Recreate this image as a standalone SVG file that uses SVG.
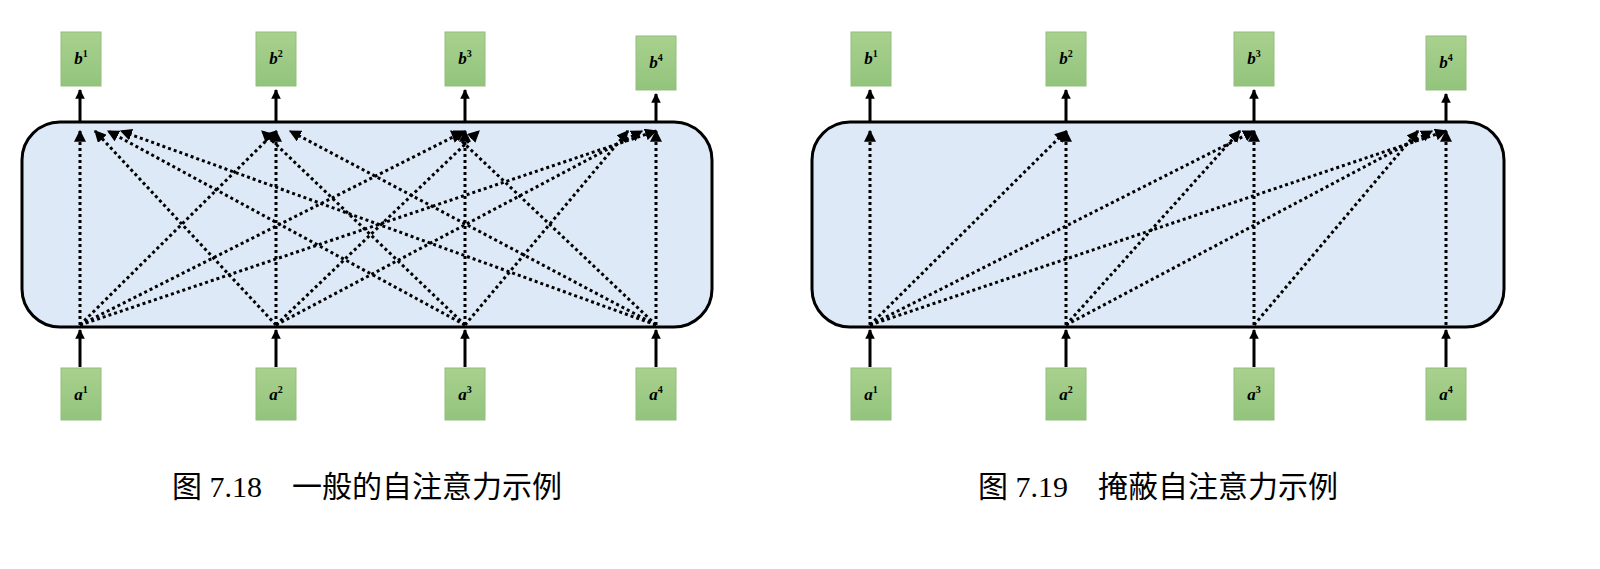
<svg xmlns="http://www.w3.org/2000/svg" width="1600" height="569" viewBox="0 0 1600 569">
<defs>
<linearGradient id="g" x1="0" y1="0" x2="0" y2="1"><stop offset="0" stop-color="#a9d18e"/><stop offset="1" stop-color="#92c47c"/></linearGradient>
<marker id="ah" viewBox="0 0 10 10" refX="9" refY="5" markerWidth="4" markerHeight="4" orient="auto"><path d="M0,0L10,5L0,10z" fill="#000"/></marker>
<marker id="as" viewBox="0 0 10 10" refX="9" refY="5" markerWidth="3.2" markerHeight="3.2" orient="auto"><path d="M0,0L10,5L0,10z" fill="#000"/></marker>
</defs>
<style>
.panel{fill:#dde9f6;stroke:#000;stroke-width:3}
.nd{fill:url(#g);stroke:#94bd7e;stroke-width:1}
.lb{font-family:"Liberation Serif",serif;font-weight:bold;font-style:italic;font-size:17px;text-anchor:middle}
.sup{font-size:10px;font-style:normal}
.io{stroke:#000;stroke-width:3;marker-end:url(#as);fill:none}
.dt{stroke:#000;stroke-width:3;stroke-dasharray:3 3;fill:none;marker-end:url(#ah)}
.cap{font-family:"Liberation Serif","Noto Sans CJK SC",serif;font-size:30px;text-anchor:middle}
</style>
<rect class="panel" x="22" y="122" width="690" height="205" rx="38"/>
<rect class="panel" x="812" y="122" width="692" height="205" rx="38"/>
<g id="b1L"><rect class="nd" x="61" y="32" width="40" height="54"/><text class="lb" x="81" y="64">b<tspan class="sup" dy="-7">1</tspan></text></g>
<g id="b2L"><rect class="nd" x="256" y="32" width="40" height="54"/><text class="lb" x="276" y="64">b<tspan class="sup" dy="-7">2</tspan></text></g>
<g id="b3L"><rect class="nd" x="445" y="32" width="40" height="54"/><text class="lb" x="465" y="64">b<tspan class="sup" dy="-7">3</tspan></text></g>
<g id="b4L"><rect class="nd" x="636" y="36" width="40" height="54"/><text class="lb" x="656" y="68">b<tspan class="sup" dy="-7">4</tspan></text></g>
<g id="a1L"><rect class="nd" x="61" y="368" width="40" height="52"/><text class="lb" x="81" y="400">a<tspan class="sup" dy="-7">1</tspan></text></g>
<g id="a2L"><rect class="nd" x="256" y="368" width="40" height="52"/><text class="lb" x="276" y="400">a<tspan class="sup" dy="-7">2</tspan></text></g>
<g id="a3L"><rect class="nd" x="445" y="368" width="40" height="52"/><text class="lb" x="465" y="400">a<tspan class="sup" dy="-7">3</tspan></text></g>
<g id="a4L"><rect class="nd" x="636" y="368" width="40" height="52"/><text class="lb" x="656" y="400">a<tspan class="sup" dy="-7">4</tspan></text></g>
<g id="b1R"><rect class="nd" x="851" y="32" width="40" height="54"/><text class="lb" x="871" y="64">b<tspan class="sup" dy="-7">1</tspan></text></g>
<g id="b2R"><rect class="nd" x="1046" y="32" width="40" height="54"/><text class="lb" x="1066" y="64">b<tspan class="sup" dy="-7">2</tspan></text></g>
<g id="b3R"><rect class="nd" x="1234" y="32" width="40" height="54"/><text class="lb" x="1254" y="64">b<tspan class="sup" dy="-7">3</tspan></text></g>
<g id="b4R"><rect class="nd" x="1426" y="36" width="40" height="54"/><text class="lb" x="1446" y="68">b<tspan class="sup" dy="-7">4</tspan></text></g>
<g id="a1R"><rect class="nd" x="851" y="368" width="40" height="52"/><text class="lb" x="871" y="400">a<tspan class="sup" dy="-7">1</tspan></text></g>
<g id="a2R"><rect class="nd" x="1046" y="368" width="40" height="52"/><text class="lb" x="1066" y="400">a<tspan class="sup" dy="-7">2</tspan></text></g>
<g id="a3R"><rect class="nd" x="1234" y="368" width="40" height="52"/><text class="lb" x="1254" y="400">a<tspan class="sup" dy="-7">3</tspan></text></g>
<g id="a4R"><rect class="nd" x="1426" y="368" width="40" height="52"/><text class="lb" x="1446" y="400">a<tspan class="sup" dy="-7">4</tspan></text></g>
<g id="connectors">
<path class="io" d="M80,122V90"/><path class="io" d="M276,122V90"/><path class="io" d="M465,122V90"/><path class="io" d="M656,122V94"/>
<path class="io" d="M80,367V330"/><path class="io" d="M276,367V330"/><path class="io" d="M465,367V330"/><path class="io" d="M656,367V330"/>
<path class="io" d="M870,122V90"/><path class="io" d="M1066,122V90"/><path class="io" d="M1254,122V90"/><path class="io" d="M1446,122V94"/>
<path class="io" d="M870,367V330"/><path class="io" d="M1066,367V330"/><path class="io" d="M1254,367V330"/><path class="io" d="M1446,367V330"/>
<path class="dt" d="M80,325L80,131"/><path class="dt" d="M80,325L276,131"/><path class="dt" d="M80,325L465,131"/><path class="dt" d="M80,325L656,131"/>
<path class="dt" d="M276,325L95,131"/><path class="dt" d="M276,325L276,131"/><path class="dt" d="M276,325L479,131"/><path class="dt" d="M276,325L642,131"/>
<path class="dt" d="M465,325L108,131"/><path class="dt" d="M465,325L262,131"/><path class="dt" d="M465,325L465,131"/><path class="dt" d="M465,325L628,131"/>
<path class="dt" d="M656,325L121,131"/><path class="dt" d="M656,325L290,131"/><path class="dt" d="M656,325L451,131"/><path class="dt" d="M656,325L656,131"/>
<path class="dt" d="M870,325L870,131"/><path class="dt" d="M870,325L1066,131"/><path class="dt" d="M870,325L1254,131"/><path class="dt" d="M870,325L1446,131"/>
<path class="dt" d="M1066,325L1066,131"/><path class="dt" d="M1066,325L1240,131"/><path class="dt" d="M1066,325L1432,131"/>
<path class="dt" d="M1254,325L1254,131"/><path class="dt" d="M1254,325L1418,131"/>
<path class="dt" d="M1446,325L1446,131"/>
</g>
<text class="cap" x="367" y="497">图 7.18　一般的自注意力示例</text>
<text class="cap" x="1158" y="497">图 7.19　掩蔽自注意力示例</text>
</svg>
